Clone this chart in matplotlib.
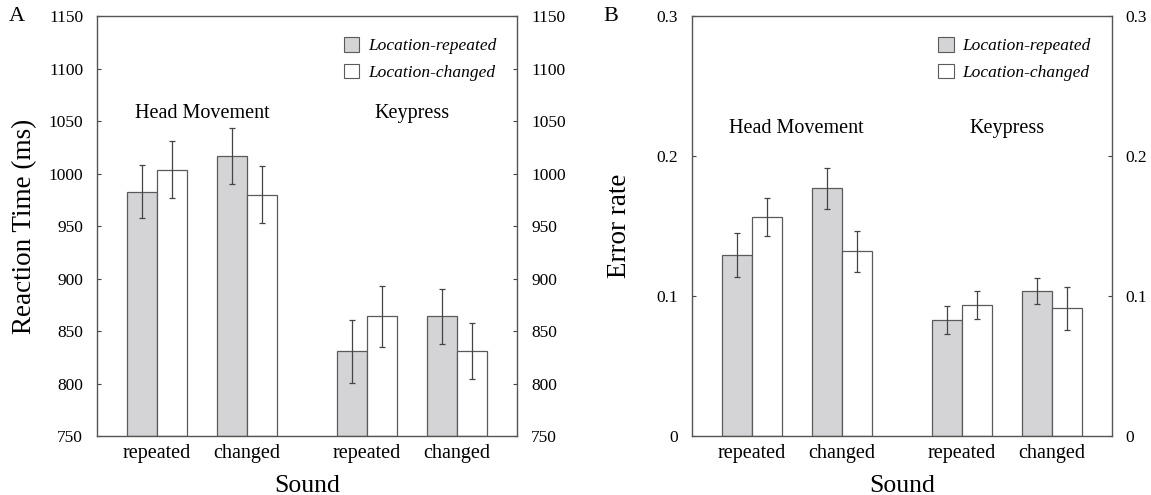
import numpy as np
import matplotlib.pyplot as plt
from matplotlib.patches import Patch

plt.rcParams['font.family'] = ['Liberation Serif', 'DejaVu Serif']

conditions = ["repeated", "changed", "repeated", "changed"]
groups = ["Head Movement", "Keypress"]
series = ["Location-repeated", "Location-changed"]

# panel A: reaction time (ms)
rt_repeated = [983, 1017, 831, 864]
rt_changed = [1004, 980, 864, 831]
rt_repeated_err = [25, 26.5, 30, 26]
rt_changed_err = [27, 27, 29.5, 27]

# panel B: error rate
er_repeated = [0.1295, 0.177, 0.083, 0.1036]
er_changed = [0.1565, 0.132, 0.0938, 0.0912]
er_repeated_err = [0.016, 0.0146, 0.0097, 0.0092]
er_changed_err = [0.0135, 0.0148, 0.0102, 0.0155]

centers = np.array([2, 5, 9, 12])
gray = "#d4d4d6"
edge = "#5a5a5a"


def draw_panel(ax, rep, chg, rep_err, chg_err, ylim, yticks, yticklabels,
               ylabel, letter, group_y):
    ekw = dict(ecolor="#444444", elinewidth=0.9, capsize=2.5, capthick=0.9)
    ax.bar(centers - 0.5, np.array(rep) - ylim[0], bottom=ylim[0], width=1,
           color=gray, edgecolor=edge, linewidth=0.9,
           yerr=rep_err, error_kw=ekw, zorder=2)
    ax.bar(centers + 0.5, np.array(chg) - ylim[0], bottom=ylim[0], width=1,
           color="white", edgecolor=edge, linewidth=0.9,
           yerr=chg_err, error_kw=ekw, zorder=2)
    ax.set_xlim(0, 14)
    ax.set_ylim(*ylim)
    ax.set_yticks(yticks)
    ax.set_yticklabels(yticklabels)
    ax.set_xticks(centers)
    ax.set_xticklabels(conditions, fontsize=14.5)
    ax.tick_params(axis="x", length=0, pad=6)
    ax.tick_params(axis="y", direction="in", length=3, labelsize=12.5,
                   right=True, labelright=True, color="#444444", pad=10)
    for s in ax.spines.values():
        s.set_color("#555555")
        s.set_linewidth(1.0)
    ax.set_xlabel("Sound", fontsize=18.5, labelpad=8)
    ax.set_ylabel(ylabel, fontsize=19.5)
    ax.yaxis.set_label_coords(-0.142, 0.5)
    ax.text(3.5, group_y, groups[0], ha="center", va="center", fontsize=14.5)
    ax.text(10.5, group_y, groups[1], ha="center", va="center", fontsize=14.5)
    handles = [Patch(facecolor=gray, edgecolor=edge, linewidth=0.8),
               Patch(facecolor="white", edgecolor=edge, linewidth=0.8)]
    ax.legend(handles, series, loc="upper right", frameon=False,
              prop={"style": "italic", "size": 12.5}, handlelength=0.9,
              handleheight=0.9, handletextpad=0.5, labelspacing=0.55,
              borderaxespad=0.8)
    ax.text(-0.21, 1.0, letter, transform=ax.transAxes, fontsize=16,
            ha="left", va="center")


fig = plt.figure(figsize=(11.51, 4.95), dpi=100)
ax_a = fig.add_axes([0.0843, 0.119, 0.365, 0.848])
ax_b = fig.add_axes([0.601, 0.119, 0.365, 0.848])

draw_panel(ax_a, rt_repeated, rt_changed, rt_repeated_err, rt_changed_err,
           (750, 1150), np.arange(750, 1151, 50),
           [str(v) for v in range(750, 1151, 50)],
           "Reaction Time (ms)", "A", 1057)
draw_panel(ax_b, er_repeated, er_changed, er_repeated_err, er_changed_err,
           (0, 0.3), [0, 0.1, 0.2, 0.3], ["0", "0.1", "0.2", "0.3"],
           "Error rate", "B", 0.22)

fig.savefig("out.png", dpi=100)
